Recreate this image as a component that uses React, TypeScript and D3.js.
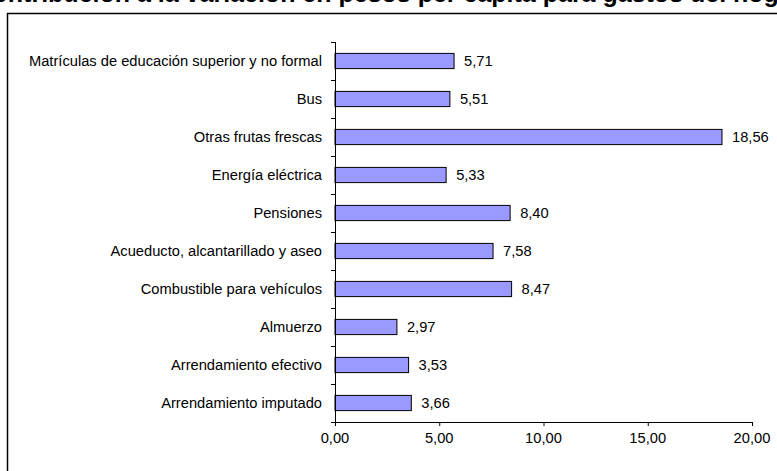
import React, { useEffect, useRef } from 'react';
import * as d3 from 'd3';

// categories top to bottom
const categories = [
  'Matrículas de educación superior y no formal',
  'Bus',
  'Otras frutas frescas',
  'Energía eléctrica',
  'Pensiones',
  'Acueducto, alcantarillado y aseo',
  'Combustible para vehículos',
  'Almuerzo',
  'Arrendamiento efectivo',
  'Arrendamiento imputado',
];
const values = [5.71, 5.51, 18.56, 5.33, 8.4, 7.58, 8.47, 2.97, 3.53, 3.66];
const xTicks = [0, 5, 10, 15, 20];
const title = 'Contribución a la variación en pesos per cápita para gastos del hogar';

const fmt = (v: number) => v.toFixed(2).replace('.', ',');

const App = () => {
  const ref = useRef<SVGGElement>(null);

  const width = 777;
  const height = 471;
  const margin = { top: 42, left: 335, right: 25, bottom: 49 };
  const plotW = width - margin.left - margin.right;
  const plotH = height - margin.top - margin.bottom;

  useEffect(() => {
    const g = d3.select(ref.current);
    g.selectAll('*').remove();

    const x = d3.scaleLinear().domain([0, 20]).range([0, plotW]);
    const y = d3.scaleBand().domain(categories).range([0, plotH]).paddingInner(0.6).paddingOuter(0.3);
    const band = d3.scaleBand().domain(categories).range([0, plotH]);

    const font = 'Arial, "Liberation Sans", sans-serif';
    const fs = '14.7px';

    // bars
    g.selectAll('.bar')
      .data(values)
      .enter()
      .append('rect')
      .attr('class', 'bar')
      .attr('x', 0)
      .attr('y', (d, i) => y(categories[i])!)
      .attr('width', (d) => x(d))
      .attr('height', y.bandwidth())
      .attr('fill', '#9999ff')
      .attr('stroke', '#000')
      .attr('stroke-width', 1);

    // value labels
    g.selectAll('.val')
      .data(values)
      .enter()
      .append('text')
      .attr('x', (d) => x(d) + 10)
      .attr('y', (d, i) => y(categories[i])! + y.bandwidth() / 2)
      .attr('dy', '0.35em')
      .style('font-family', font)
      .style('font-size', fs)
      .attr('fill', '#000')
      .text((d) => fmt(d));

    // y axis
    const yAxis = g.append('g');
    yAxis.append('line')
      .attr('x1', 0.5).attr('x2', 0.5)
      .attr('y1', 0).attr('y2', plotH)
      .attr('stroke', '#000');
    yAxis.selectAll('.ytick')
      .data(d3.range(categories.length + 1))
      .enter()
      .append('line')
      .attr('x1', -4).attr('x2', 0.5)
      .attr('y1', (i) => (i < categories.length ? band(categories[i])! : plotH) + 0.5)
      .attr('y2', (i) => (i < categories.length ? band(categories[i])! : plotH) + 0.5)
      .attr('stroke', '#000');
    yAxis.selectAll('.ylab')
      .data(categories)
      .enter()
      .append('text')
      .attr('x', -13)
      .attr('y', (d) => band(d)! + band.bandwidth() / 2)
      .attr('dy', '0.35em')
      .attr('text-anchor', 'end')
      .style('font-family', font)
      .style('font-size', fs)
      .text((d) => d);

    // x axis
    const xAxis = g.append('g').attr('transform', `translate(0,${plotH})`);
    xAxis.append('line')
      .attr('x1', 0).attr('x2', plotW)
      .attr('y1', 0.5).attr('y2', 0.5)
      .attr('stroke', '#000');
    xAxis.selectAll('.xtick')
      .data(xTicks)
      .enter()
      .append('line')
      .attr('x1', (d) => x(d) + 0.5).attr('x2', (d) => x(d) + 0.5)
      .attr('y1', 0).attr('y2', 4)
      .attr('stroke', '#000');
    xAxis.selectAll('.xlab')
      .data(xTicks)
      .enter()
      .append('text')
      .attr('x', (d) => x(d))
      .attr('y', 21)
      .attr('text-anchor', 'middle')
      .style('font-family', font)
      .style('font-size', fs)
      .text((d) => fmt(d));
  }, []);

  return (
    <svg width={width} height={height} style={{ position: 'absolute', left: 0, top: 0 }}>
      <rect x={0} y={0} width={width} height={height} fill="#fff" />
      <text
        x={width / 2}
        y={2}
        textAnchor="middle"
        style={{ fontFamily: 'Arial, "Liberation Sans", sans-serif', fontSize: '25px', fontWeight: 'bold' }}
      >
        {title}
      </text>
      <rect x={7.5} y={13.5} width={width} height={height} fill="none" stroke="#000" strokeWidth={1.5} />
      <g ref={ref} transform={`translate(${margin.left},${margin.top})`}></g>
    </svg>
  );
};

export default App;
